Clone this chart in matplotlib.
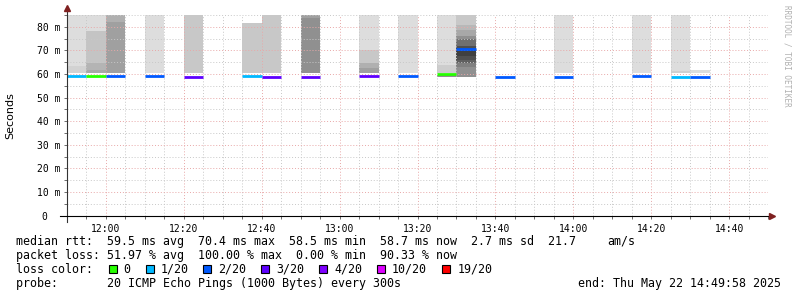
import matplotlib
matplotlib.use("Agg")
import matplotlib.pyplot as plt
from matplotlib.patches import Rectangle

# smokeping style latency graph, 5 min steps from 11:50 to 14:50
col_time = ["11:50", "11:55", "12:00", "12:10", "12:20", "12:35", "12:40", "12:50",
            "13:05", "13:15", "13:25", "13:30", "13:40", "13:55", "14:15", "14:25", "14:30"]
median_ms = [59.2, 59.1, 59.0, 59.0, 58.9, 59.0, 58.9, 58.9,
             59.3, 59.0, 59.9, 70.4, 58.9, 58.9, 59.0, 58.9, 58.7]
loss_count = [1, 0, 2, 2, 3, 1, 3, 3, 3, 2, 0, 2, 2, 2, 2, 1, 2]

# smoke bands per column: (low ms, high ms, gray level)
smoke = [
    [(60.4, 63.4, 0xd2), (63.4, 85, 0xdd)],
    [(60.4, 61.7, 0xa8), (61.7, 64.6, 0xb4), (64.6, 78.2, 0xc4), (78.2, 85, 0xdd)],
    [(60.4, 82.0, 0xa0), (82.0, 85, 0xb0)],
    [(60.4, 85, 0xdd)],
    [(60.4, 85, 0xc8)],
    [(60.4, 81.6, 0xc8)],
    [(60.4, 85, 0xc8)],
    [(60.4, 83.7, 0x90), (83.7, 85, 0xa0)],
    [(60.4, 62.5, 0xa0), (62.5, 64.6, 0xb0), (64.6, 70.1, 0xc8), (70.1, 85, 0xdd)],
    [(60.4, 85, 0xdd)],
    [(58.7, 59.5, 0x90), (60.4, 61.1, 0xcc), (61.1, 63.8, 0xcd), (63.8, 85, 0xdd)],
    [(58.8, 63.1, 0x90), (63.1, 64.8, 0x80), (64.8, 65.9, 0x60), (65.9, 67.6, 0x50),
     (67.6, 70.9, 0x40), (70.9, 71.8, 0x50), (71.8, 74.7, 0x70), (74.7, 76.1, 0x90),
     (76.1, 78.6, 0xa8), (78.6, 80.8, 0xb8), (80.8, 85, 0xc8)],
    [],
    [(60.4, 85, 0xdd)],
    [(60.4, 85, 0xdd)],
    [(60.4, 61.2, 0xd0), (61.2, 85, 0xdd)],
    [(60.4, 61.7, 0xdd)],
]

loss_levels = [0, 1, 2, 3, 4, 10, 19]
loss_labels = ["0", "1/20", "2/20", "3/20", "4/20", "10/20", "19/20"]
loss_colors = ["#26ff00", "#00b8ff", "#0059ff", "#5e00ff", "#7e00ff", "#dd00ff", "#ff0000"]

def minutes(s):
    h, m = s.split(":")
    return int(h) * 60 + int(m)

W, H = 797, 297
fig = plt.figure(figsize=(W / 100, H / 100), dpi=100)
ax = fig.add_axes([67 / W, (H - 215.7) / H, 701 / W, 200.7 / H])

mono = "DejaVu Sans Mono"

for t, bands, med, loss in zip(col_time, smoke, median_ms, loss_count):
    x0 = minutes(t)
    for lo, hi, g in bands:
        c = "#%02x%02x%02x" % (g, g, g)
        ax.bar(x0, hi - lo, bottom=lo, width=5, align="edge", color=c, linewidth=0, zorder=1)
    lc = loss_colors[loss_levels.index(loss)]
    ax.plot([x0, x0 + 5], [med, med], color=lc, linewidth=2.0, solid_capstyle="butt", zorder=3)

ax.set_xlim(minutes("11:50"), minutes("14:50"))
ax.set_ylim(0, 85)

xt = list(range(minutes("12:00"), minutes("14:50"), 20))
ax.set_xticks(xt)
ax.set_xticklabels(["%d:%02d" % (m // 60, m % 60) for m in xt], family=mono, fontsize=7)
ax.set_xticks(range(minutes("11:50"), minutes("14:50") + 1, 5), minor=True)
yt = list(range(0, 81, 10))
ax.set_yticks(yt)
ax.set_yticklabels(["0  "] + ["%d m" % v for v in yt[1:]], family=mono, fontsize=7)
ax.set_yticks(range(0, 86, 5), minor=True)

ax.grid(which="minor", color="#c8c8c8", linestyle=(0, (1, 2)), linewidth=0.7, zorder=4)
ax.grid(which="major", color="#e8a8a8", linestyle=(0, (1, 2)), linewidth=0.7, zorder=5)
ax.set_axisbelow(False)
ax.tick_params(which="both", length=2, width=0.6, color="#555555")
ax.tick_params(axis="x", pad=4)
ax.tick_params(axis="y", pad=3)

for s in ax.spines.values():
    s.set_visible(False)
ax.plot([0, 0], [-0.03, 1.03], transform=ax.transAxes, color="#333333", lw=0.8, clip_on=False, zorder=6)
ax.plot([-0.01, 1.004], [0, 0], transform=ax.transAxes, color="black", lw=0.8, clip_on=False, zorder=6)
ax.plot([0], [1.035], transform=ax.transAxes, marker="^", color="#7f2020", ms=4, clip_on=False, zorder=7)
ax.plot([1.006], [0], transform=ax.transAxes, marker=">", color="#7f2020", ms=4, clip_on=False, zorder=7)

ax.set_ylabel("Seconds", fontsize=8)
ax.yaxis.set_label_coords((15 - 67) / 701, 0.5)

fig.text(787 / W, 1 - 5 / H, "RRDTOOL / TOBI OETIKER", family=mono, fontsize=5.5,
         color="#b0b0b0", rotation=270, ha="center", va="top")

def ftext(x, yb, s, **kw):
    fig.text(x / W, 1 - yb / H, s, family=mono, fontsize=8.4, va="baseline", **kw)

ftext(16, 245, "median rtt:  59.5 ms avg  70.4 ms max  58.5 ms min  58.7 ms now  2.7 ms sd  21.7")
ftext(607, 245, "am/s")
ftext(16, 259, "packet loss: 51.97 % avg  100.00 % max  0.00 % min  90.33 % now")

ftext(16, 273, "loss color:")
sq_x = [108.7, 145.7, 203.3, 261.3, 319, 377, 442.3]
for sx, lab, c in zip(sq_x, loss_labels, loss_colors):
    fig.patches.append(Rectangle((sx / W, 1 - 273 / H), 8 / W, 8 / H, transform=fig.transFigure,
                                 facecolor=c, edgecolor="black", linewidth=0.8))
    ftext(sx + 15, 273, lab)

ftext(16, 287, "probe:       20 ICMP Echo Pings (1000 Bytes) every 300s")
ftext(578, 287, "end: Thu May 22 14:49:58 2025")

fig.savefig("out.png", dpi=100, facecolor="white")
